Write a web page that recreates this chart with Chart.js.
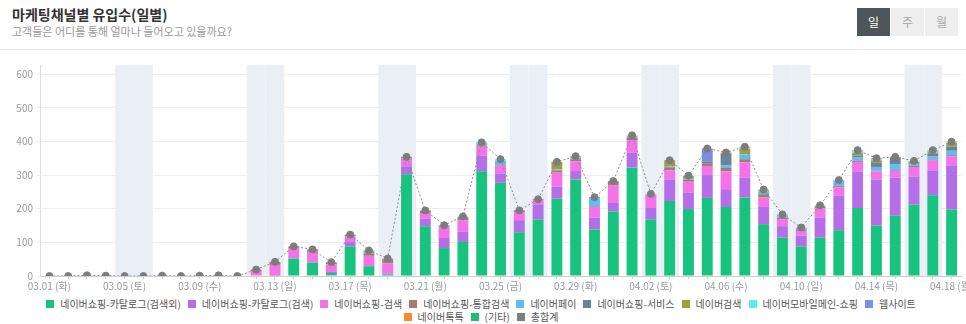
<!DOCTYPE html>
<html><head><meta charset="utf-8">
<script src="https://cdn.jsdelivr.net/npm/chart.js@4/dist/chart.umd.min.js"></script>
<style>
html,body{margin:0;padding:0;background:#fff;width:966px;height:324px;overflow:hidden;font-family:"Noto Sans CJK KR","Noto Sans",sans-serif;}
#hdr{position:absolute;left:0;top:0;width:966px;height:49px;border-bottom:1px solid #e8e8e8;}
#title{position:absolute;left:12px;top:4px;font-size:14px;font-weight:bold;color:#333;white-space:nowrap;}
#sub{position:absolute;left:12px;top:23px;font-size:11px;color:#999;white-space:nowrap;}
.btn{position:absolute;top:8px;width:33px;height:28px;line-height:28px;text-align:center;font-size:12px;background:#eee;color:#aaa;}
#wrap{position:absolute;left:0;top:50px;width:966px;height:246px;}
#legend{position:absolute;left:31px;top:297px;width:900px;display:flex;flex-wrap:wrap;justify-content:center;font-size:10px;line-height:13px;color:#555;}
.li{display:inline-flex;align-items:center;margin:0 3.5px;white-space:nowrap;}
.lb{display:inline-block;width:8px;height:8px;margin-right:6px;}
</style>
</head><body>
<div id="hdr">
  <div id="title">마케팅채널별 유입수(일별)</div>
  <div id="sub">고객들은 어디를 통해 얼마나 들어오고 있을까요?</div>
  <div class="btn" style="left:857px;background:#4e5659;color:#fff;">일</div>
  <div class="btn" style="left:891px;">주</div>
  <div class="btn" style="left:925px;">월</div>
</div>
<div id="wrap"><canvas id="c"></canvas></div>
<div id="legend"></div>
<script>
const dayLabels = [
 '03.01 (화)','03.02 (수)','03.03 (목)','03.04 (금)','03.05 (토)','03.06 (일)','03.07 (월)',
 '03.08 (화)','03.09 (수)','03.10 (목)','03.11 (금)','03.12 (토)','03.13 (일)','03.14 (월)',
 '03.15 (화)','03.16 (수)','03.17 (목)','03.18 (금)','03.19 (토)','03.20 (일)','03.21 (월)',
 '03.22 (화)','03.23 (수)','03.24 (목)','03.25 (금)','03.26 (토)','03.27 (일)','03.28 (월)',
 '03.29 (화)','03.30 (수)','03.31 (목)','04.01 (금)','04.02 (토)','04.03 (일)','04.04 (월)',
 '04.05 (화)','04.06 (수)','04.07 (목)','04.08 (금)','04.09 (토)','04.10 (일)','04.11 (월)',
 '04.12 (화)','04.13 (수)','04.14 (목)','04.15 (금)','04.16 (토)','04.17 (일)','04.18 (월)'
];
const seriesNames = ['네이버쇼핑-카탈로그(검색외)','네이버쇼핑-카탈로그(검색)','네이버쇼핑-검색','네이버쇼핑-통합검색','네이버페이','네이버쇼핑-서비스','네이버검색','네이버모바일메인-쇼핑','웹사이트','네이버톡톡','(기타)','총합계'];
const catalogOther = [0,0,0,0,0,0,0,0,0,0,0,0,0,52,40,9,88,29,4,302,148,83,101,311,277,130,168,230,287,138,192,322,168,223,199,232,205,233,154,114,88,114,136,202,150,179,212,240,198];
const catalogSearch = [0,0,0,0,0,0,0,0,0,0,0,0,1,0,1,3,13,0,3,24,22,30,30,46,28,36,45,35,25,36,25,44,34,64,48,68,53,60,51,34,32,60,102,109,137,113,83,74,131];
const shopSearch = [0,0,2,1,0,0,1,0,1,2,0,14,32,29,31,23,17,31,31,23,17,31,35,27,23,24,12,42,29,31,53,38,40,27,33,27,53,45,28,21,14,27,26,28,24,20,29,29,27];
const unifiedSearch = [0,0,0,0,0,0,0,0,0,0,0,5,9,7,7,5,4,7,12,5,7,4,8,4,2,5,3,7,6,2,12,8,0,9,6,8,10,9,10,4,3,5,3,3,2,2,3,3,3];
const naverPay = [0,0,0,0,0,0,0,0,0,0,0,0,0,0,0,1,1,9,2,0,1,3,3,7,13,0,0,3,4,24,0,4,0,3,5,0,7,14,9,8,6,4,16,10,11,17,5,9,13];
const shopService = [0,0,0,0,0,0,0,0,0,0,0,0,0,0,0,0,0,0,0,0,0,0,0,0,0,0,0,0,0,0,0,0,0,0,0,4,35,0,0,0,0,0,0,6,12,20,1,8,13];
const naverSearch = [0,0,0,0,0,0,0,0,0,0,0,0,0,0,0,0,0,0,0,0,0,0,0,0,0,0,0,22,0,0,0,0,0,18,6,0,4,17,3,0,0,0,0,8,8,3,6,4,10];
const mobileMain = [0,0,0,0,0,0,0,0,0,0,0,0,0,0,0,0,0,0,0,0,0,0,0,2,4,0,0,0,2,0,0,2,2,0,1,0,0,3,2,2,1,0,2,8,4,0,3,5,2];
const website = [0,0,0,0,0,0,0,0,0,0,0,0,0,0,0,0,0,0,0,0,0,0,0,0,0,0,0,0,0,0,0,0,0,0,0,40,0,0,0,0,0,0,0,0,0,0,0,0,0];
const talktalk = [0,0,0,0,0,0,0,0,0,0,0,0,0,0,0,0,0,0,0,0,0,0,0,0,0,0,0,0,3,0,0,0,0,0,0,0,0,3,0,0,0,0,0,0,2,0,0,2,2];
const etc = [0,0,0,0,0,0,0,0,0,0,0,0,0,0,0,0,0,0,0,0,0,0,0,0,0,0,0,0,0,3,0,0,0,0,0,0,0,0,0,0,0,0,0,0,0,0,0,0,0];
const totals = [0,0,2,1,0,0,1,0,1,2,0,19,42,88,79,41,123,76,52,354,195,151,177,397,347,195,228,339,356,234,282,418,244,344,298,379,367,384,257,183,144,210,285,374,350,354,342,374,399];
const yMax = 627;

const barSeries = [catalogOther,catalogSearch,shopSearch,unifiedSearch,naverPay,shopService,naverSearch,mobileMain,website,talktalk,etc];
const barColors = ['#17c37e','#b46ee7','#f572e8','#a9796b','#5dbdf7','#6a8399','#9ba23b','#5aebeb','#7b8ee0','#f98b2d','#1fbf6f'];
const totalColor = '#7d7d7d';

const datasets = barSeries.map((d,i)=>({
  type:'bar', label:seriesNames[i], data:d, backgroundColor:barColors[i],
  stack:'s', order:0, barPercentage:0.58, categoryPercentage:1
}));
datasets.push({
  type:'line', label:seriesNames[11], data:totals, borderColor:'#8c8c8c', borderWidth:1,
  borderDash:[2,2], pointRadius:3.5, pointBackgroundColor:totalColor, pointBorderColor:totalColor,
  backgroundColor:totalColor, stack:'t', order:-1, tension:0, fill:false
});

// HTML legend built from the series names/colours
const legendColors = barColors.concat([totalColor]);
const lg = document.getElementById('legend');
seriesNames.forEach((n,i)=>{
  const it = document.createElement('span'); it.className='li';
  const b = document.createElement('span'); b.className='lb'; b.style.background = legendColors[i];
  it.appendChild(b); it.appendChild(document.createTextNode(n)); lg.appendChild(it);
});

const weekendBands = {
  id:'weekendBands',
  beforeDatasetsDraw(chart){
    const {ctx, chartArea, scales:{x}} = chart;
    const w = x.getPixelForValue(1) - x.getPixelForValue(0);
    ctx.save();
    ctx.fillStyle = '#eaeff6';
    dayLabels.forEach((l,i)=>{
      if (l.indexOf('(토)')>=0 || l.indexOf('(일)')>=0){
        const cx = x.getPixelForValue(i);
        ctx.fillRect(cx - w/2, chartArea.top, w, chartArea.bottom - chartArea.top);
      }
    });
    ctx.restore();
  }
};

Chart.defaults.font.family = '"Noto Sans CJK KR","Noto Sans",sans-serif';
new Chart(document.getElementById('c'), {
  data:{labels:dayLabels, datasets},
  options:{
    responsive:true, maintainAspectRatio:false, animation:false,
    layout:{padding:{top:15,right:5,left:0,bottom:0}},
    plugins:{ tooltip:{enabled:false}, legend:{display:false} },
    scales:{
      x:{
        stacked:true,
        grid:{display:true, drawOnChartArea:false, drawTicks:true, tickLength:3, offset:false, color:'#cfcfcf'},
        border:{display:true, color:'#cfcfcf'},
        ticks:{autoSkip:false, maxRotation:0, minRotation:0, color:'#999', font:{size:10}, padding:1,
          callback:(v,i)=> i%4===0 ? dayLabels[i] : ''},
        afterFit(s){ s.height = 20; s.paddingLeft = 0; s.paddingRight = 0; }
      },
      y:{
        stacked:true, min:0, max:yMax,
        ticks:{stepSize:100, includeBounds:false, color:'#999', font:{size:10}, padding:3},
        grid:{color:'#eeeeee', tickLength:4},
        border:{display:true, color:'#dddddd'},
        afterFit(s){ s.width = 40; }
      }
    }
  },
  plugins:[weekendBands]
});
</script>
</body></html>
